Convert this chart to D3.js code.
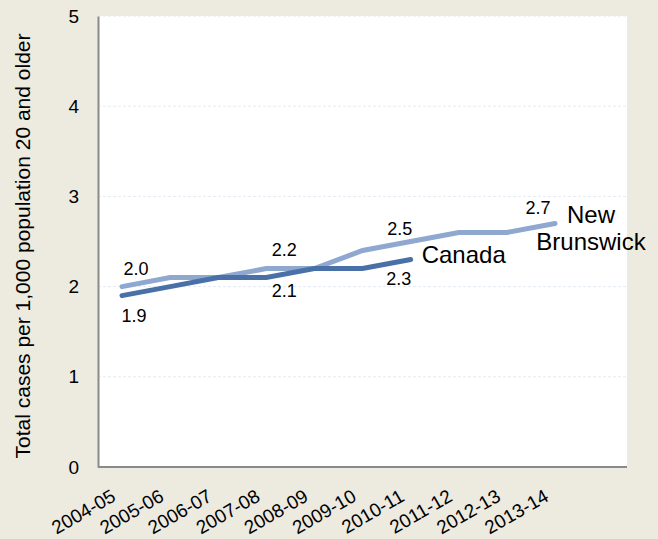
<html>

<head>
    <style>
        body { margin: 0; background: #edeae0; }
        text { font-family: "Liberation Sans", Arial, sans-serif; }
    </style>
</head>

<body>
    <div id="my_dataviz"></div>
</body>

<script src="https://d3js.org/d3.v7.min.js"></script>
<script>
    // data
    var years = ["2004-05", "2005-06", "2006-07", "2007-08", "2008-09",
        "2009-10", "2010-11", "2011-12", "2012-13", "2013-14"];
    var newBrunswick = [2.0, 2.1, 2.1, 2.2, 2.2, 2.4, 2.5, 2.6, 2.6, 2.7];
    var canada = [1.9, 2.0, 2.1, 2.1, 2.2, 2.2, 2.3];
    var yTicks = [0, 1, 2, 3, 4, 5];

    // which points carry a value label (index into the series)
    var nbLabelIdx = [0, 3, 6, 9];
    var caLabelIdx = [0, 3, 6];

    var W = 658, H = 539;
    var plot = { left: 98, right: 627, top: 16, bottom: 467 };

    var svg = d3.select("#my_dataviz")
        .append("svg")
        .attr("width", W)
        .attr("height", H);

    svg.append("rect")
        .attr("x", plot.left).attr("y", plot.top)
        .attr("width", plot.right - plot.left)
        .attr("height", plot.bottom - plot.top)
        .attr("fill", "#ffffff");

    var x = d3.scalePoint()
        .domain(years)
        .range([122, 555]);

    var y = d3.scaleLinear()
        .domain([0, 5])
        .range([plot.bottom, plot.top]);

    // gridlines
    svg.append("g")
        .selectAll("line")
        .data(yTicks.filter(function (d) { return d > 0; }))
        .enter()
        .append("line")
        .attr("x1", plot.left).attr("x2", plot.right)
        .attr("y1", function (d) { return y(d); })
        .attr("y2", function (d) { return y(d); })
        .attr("stroke", "#e4eaf3")
        .attr("stroke-dasharray", "3,2");

    // y axis
    var yAxis = svg.append("g")
        .attr("transform", "translate(" + plot.left + ",0)")
        .call(d3.axisLeft(y).tickValues(yTicks).tickSize(0).tickPadding(19).tickFormat(d3.format("d")));
    yAxis.select(".domain").attr("stroke", "#8a8a8a").attr("stroke-width", 2);
    yAxis.selectAll("text").style("font-size", "19px").attr("fill", "#000");

    // x axis
    var xAxis = svg.append("g")
        .attr("transform", "translate(0," + plot.bottom + ")");
    xAxis.append("line")
        .attr("x1", plot.left).attr("x2", plot.right)
        .attr("stroke", "#8a8a8a").attr("stroke-width", 2);
    xAxis.selectAll("text")
        .data(years)
        .enter()
        .append("text")
        .attr("transform", function (d) {
            return "translate(" + (x(d) - 5) + ",33)rotate(-30)";
        })
        .style("text-anchor", "end")
        .style("font-size", "19px")
        .attr("fill", "#000")
        .text(function (d) { return d; });

    // y title
    svg.append("text")
        .attr("transform", "translate(30,246)rotate(-90)")
        .style("text-anchor", "middle")
        .style("font-size", "21px")
        .attr("fill", "#000")
        .text("Total cases per 1,000 population 20 and older");

    var line = d3.line()
        .x(function (d, i) { return x(years[i]); })
        .y(function (d) { return y(d); });

    svg.append("path")
        .datum(newBrunswick)
        .attr("d", line)
        .attr("fill", "none")
        .attr("stroke", "#8fa8d0")
        .attr("stroke-width", 5)
        .attr("stroke-linecap", "round");

    svg.append("path")
        .datum(canada)
        .attr("d", line)
        .attr("fill", "none")
        .attr("stroke", "#4a70a8")
        .attr("stroke-width", 5)
        .attr("stroke-linecap", "round");

    // value labels
    var nbOff = [[14, -12], [18, -13], [-11, -7], [-17, -9]];
    var caOff = [[12, 26], [18, 19], [-12, 25]];

    svg.selectAll(".nbLab")
        .data(nbLabelIdx)
        .enter()
        .append("text")
        .attr("x", function (d, k) { return x(years[d]) + nbOff[k][0]; })
        .attr("y", function (d, k) { return y(newBrunswick[d]) + nbOff[k][1]; })
        .style("text-anchor", "middle")
        .style("font-size", "18px")
        .text(function (d) { return newBrunswick[d].toFixed(1); });

    svg.selectAll(".caLab")
        .data(caLabelIdx)
        .enter()
        .append("text")
        .attr("x", function (d, k) { return x(years[d]) + caOff[k][0]; })
        .attr("y", function (d, k) { return y(canada[d]) + caOff[k][1]; })
        .style("text-anchor", "middle")
        .style("font-size", "18px")
        .text(function (d) { return canada[d].toFixed(1); });

    // series names
    svg.append("text")
        .attr("x", x(years[canada.length - 1]) + 11)
        .attr("y", y(canada[canada.length - 1]) + 3)
        .style("font-size", "24px")
        .text("Canada");

    var nbX = x(years[years.length - 1]) + 36;
    var nbName = svg.append("text")
        .attr("x", nbX)
        .attr("y", y(newBrunswick[newBrunswick.length - 1]))
        .style("text-anchor", "middle")
        .style("font-size", "24px");
    nbName.append("tspan").attr("x", nbX).attr("dy", 0).text("New");
    nbName.append("tspan").attr("x", nbX).attr("dy", 27).text("Brunswick");
</script>

</html>
